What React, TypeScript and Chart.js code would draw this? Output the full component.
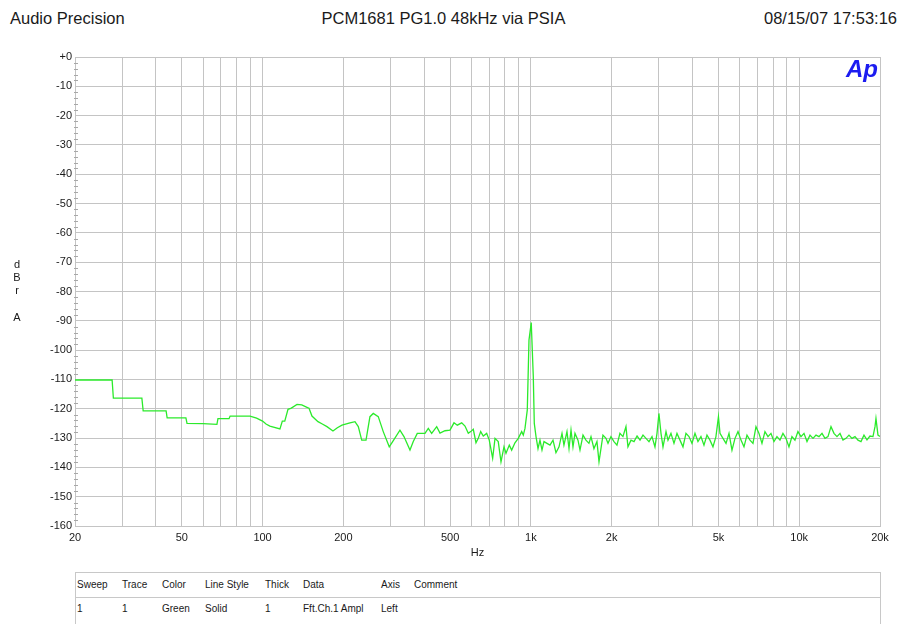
import React, { useEffect, useRef } from "react";
import { Chart, registerables } from "chart.js";

Chart.register(...registerables);

const FREQ_HZ = [
  20, 27.5, 27.8, 35.5, 35.9, 43.7, 44.1, 51.8, 52.3, 60, 67.6, 68.2, 75, 75.7, 89.8, 95, 100, 103, 106.5, 116.1,
  118.5, 121, 124.4, 128, 134.4, 140, 146.4, 149, 152.8, 160.9, 167, 173.8, 183, 190, 197.7, 211.7, 221, 227.4,
  234.2, 243, 251.3, 258.6, 269.9, 281.7, 296.6, 305.4, 325.1, 336.5, 354.3, 364.5, 377.2, 403, 414.6, 426.8,
  445.6, 458.4, 478.5, 499.5, 516.9, 531.7, 552.3, 568.1, 584.4, 596.6, 610, 624.3, 636.6, 650, 664.6, 684.2,
  699.6, 720.3, 735, 755.7, 773.7, 793.8, 807.7, 830.9, 847.9, 872.3, 897.4, 924.1, 936.9, 950.6, 969.6, 983.8,
  1003, 1020.8, 1029.6, 1045, 1063, 1081, 1100, 1119, 1148, 1178, 1209, 1240, 1273, 1306, 1328, 1363, 1387, 1411,
  1435, 1460, 1498, 1524, 1564, 1604, 1646, 1675, 1718, 1763, 1794, 1856, 1905, 1938, 1988, 2040, 2093, 2147,
  2203, 2261, 2300, 2361, 2423, 2487, 2551, 2617, 2685, 2755, 2827, 2900, 2951, 3000, 3054, 3107, 3188, 3243,
  3327, 3414, 3503, 3594, 3688, 3784, 3883, 3984, 4088, 4194, 4303, 4416, 4531, 4649, 4770, 4894, 5000, 5067,
  5199, 5335, 5474, 5616, 5763, 5913, 6067, 6225, 6387, 6554, 6725, 6900, 7080, 7264, 7453, 7648, 7847, 8051,
  8261, 8477, 8697, 8924, 9157, 9395, 9640, 9891, 10153, 10418, 10690, 10969, 11255, 11548, 11849, 12158, 12475,
  12800, 13134, 13476, 13827, 14188, 14558, 14937, 15326, 15726, 16136, 16556, 16988, 17431, 17885, 18351, 18829,
  19160, 19320, 19655, 20000,
];

const LEVEL_DBR = [
  -110.2, -110.2, -116.4, -116.4, -120.7, -120.7, -123.1, -123.1, -125.0, -125.1, -125.3, -123.4, -123.4, -122.5,
  -122.5, -123.2, -124.2, -125.2, -125.9, -126.9, -124.2, -124.2, -120.2, -119.8, -118.5, -118.7, -119.5, -119.8,
  -122.5, -124.4, -125.2, -126.1, -127.6, -126.5, -125.6, -124.8, -124.4, -126.1, -130.7, -130.7, -122.7, -121.6,
  -122.7, -127.8, -133.0, -131.2, -127.3, -129.5, -134.1, -131.2, -128.4, -128.4, -126.7, -128.4, -126.1, -128.3,
  -127.5, -127.3, -124.8, -125.6, -124.8, -125.9, -128.4, -127.8, -127.0, -131.6, -130.1, -127.8, -129.3, -128.4,
  -130.7, -136.9, -130.1, -131.2, -138.1, -133.0, -135.2, -132.4, -134.1, -131.6, -130.1, -127.8, -129.0, -126.7,
  -120.4, -96.6, -90.6, -109.0, -125.0, -129.5, -133.6, -130.7, -134.1, -131.2, -131.8, -132.4, -130.7, -135.0,
  -133.0, -128.4, -132.4, -127.8, -133.6, -127.3, -133.0, -128.4, -130.7, -134.1, -129.0, -130.7, -131.8, -129.5,
  -133.6, -131.2, -138.1, -129.0, -130.1, -131.8, -129.5, -131.2, -132.4, -128.4, -129.5, -126.1, -133.0, -130.7,
  -131.2, -129.3, -130.7, -129.0, -130.1, -131.2, -129.5, -133.0, -128.4, -121.6, -128.4, -133.0, -127.8, -130.7,
  -128.4, -131.8, -128.4, -130.7, -133.0, -128.4, -129.5, -131.8, -128.4, -131.2, -129.5, -132.4, -129.0, -130.7,
  -133.0, -129.5, -122.7, -128.4, -130.1, -131.8, -128.4, -134.1, -130.1, -127.8, -130.7, -133.0, -129.0, -130.7,
  -131.8, -126.1, -128.4, -131.8, -127.8, -129.5, -128.4, -131.2, -129.5, -130.7, -128.4, -130.1, -133.0, -129.5,
  -130.7, -127.8, -129.5, -128.4, -131.2, -129.0, -130.1, -129.0, -129.5, -128.4, -130.1, -129.5, -126.1, -128.4,
  -129.5, -128.4, -130.7, -130.1, -129.0, -130.1, -129.5, -130.7, -131.2, -129.0, -130.6, -129.3, -129.5, -126.1,
  -123.3, -129.0, -129.5,
];

const X_GRID_HZ = [
  20, 30, 40, 50, 60, 70, 80, 90, 100, 200, 300, 400, 500, 600, 700, 800, 900, 1000, 2000, 3000, 4000, 5000,
  6000, 7000, 8000, 9000, 10000, 20000,
];
const X_LABEL_HZ = [20, 50, 100, 200, 500, 1000, 2000, 5000, 10000, 20000];
const X_LABEL_TEXT = ["20", "50", "100", "200", "500", "1k", "2k", "5k", "10k", "20k"];
const Y_MIN = -160;
const Y_MAX = 0;
const Y_STEP = 10;
const Y_MINOR_STEP = 2;

const HEADER_LEFT = "Audio Precision";
const HEADER_TITLE = "PCM1681 PG1.0 48kHz via PSIA";
const HEADER_RIGHT = "08/15/07 17:53:16";
const TABLE_HEAD = ["Sweep", "Trace", "Color", "Line Style", "Thick", "Data", "Axis", "Comment"];
const TABLE_ROW = ["1", "1", "Green", "Solid", "1", "Fft.Ch.1 Ampl", "Left", ""];
const TABLE_COL_X = [77, 122, 162, 205, 265, 303, 381, 414];

const FONT = "'Liberation Sans', Arial, Helvetica, sans-serif";
const GRID = "#c4c4c4";
const TEXT = "#1a1a1a";

const minorTicks = {
  id: "minorTicks",
  afterDraw(chart: any) {
    const y = chart.scales.y;
    const left = chart.chartArea.left;
    const ctx = chart.ctx;
    ctx.save();
    ctx.strokeStyle = "#a8a8a8";
    ctx.lineWidth = 1;
    for (let v = Y_MIN; v <= Y_MAX; v += Y_MINOR_STEP) {
      if (v % Y_STEP === 0) continue;
      const py = Math.round(y.getPixelForValue(v)) + 0.5;
      ctx.beginPath();
      ctx.moveTo(left - 1, py);
      ctx.lineTo(left + 3, py);
      ctx.stroke();
    }
    ctx.restore();
  },
};

export default function App() {
  const ref = useRef<HTMLCanvasElement | null>(null);

  useEffect(() => {
    document.body.style.margin = "0";
    const canvas = ref.current;
    if (!canvas) return;
    const points = FREQ_HZ.map((f, i) => ({ x: f, y: LEVEL_DBR[i] }));
    const chart = new Chart(canvas, {
      type: "line",
      data: {
        datasets: [
          {
            data: points,
            borderColor: "#2bea2b",
            borderWidth: 1.3,
            pointRadius: 0,
            tension: 0,
            fill: false,
          },
        ],
      },
      options: {
        responsive: false,
        animation: false,
        layout: { padding: { left: 0, right: 21, top: 57, bottom: 0 } },
        plugins: { legend: { display: false }, tooltip: { enabled: false } },
        scales: {
          x: {
            type: "logarithmic",
            min: 20,
            max: 20000,
            afterBuildTicks: (s: any) => {
              s.ticks = X_GRID_HZ.map((v) => ({ value: v }));
            },
            afterFit: (s: any) => {
              s.height = 44;
            },
            ticks: {
              autoSkip: false,
              maxRotation: 0,
              minRotation: 0,
              padding: 5,
              color: TEXT,
              font: { family: FONT, size: 11 },
              callback: (v: any) => {
                const i = X_LABEL_HZ.indexOf(Number(v));
                return i >= 0 ? X_LABEL_TEXT[i] : "";
              },
            },
            grid: { color: GRID, drawTicks: false, lineWidth: 1 },
            border: { color: GRID },
            title: {
              display: true,
              text: "Hz",
              color: TEXT,
              font: { family: FONT, size: 11 },
              padding: { top: 0, bottom: 10 },
            },
          },
          y: {
            type: "linear",
            min: Y_MIN,
            max: Y_MAX,
            afterFit: (s: any) => {
              s.width = 75;
            },
            ticks: {
              stepSize: Y_STEP,
              padding: 3,
              color: TEXT,
              font: { family: FONT, size: 11 },
              callback: (v: any) => (Number(v) === 0 ? "+0" : String(v)),
            },
            grid: { color: GRID, drawTicks: false, lineWidth: 1 },
            border: { color: GRID },
          },
        },
      },
      plugins: [minorTicks],
    });
    return () => chart.destroy();
  }, []);

  const abs = (extra: React.CSSProperties): React.CSSProperties => ({
    position: "absolute",
    whiteSpace: "nowrap",
    fontFamily: FONT,
    color: TEXT,
    ...extra,
  });

  return (
    <div style={{ position: "relative", width: 901, height: 624, overflow: "hidden", background: "#fff" }}>
      <style>{"body{margin:0}"}</style>
      <div style={abs({ left: 10, top: 8, fontSize: 16.5, lineHeight: "20px" })}>{HEADER_LEFT}</div>
      <div style={abs({ left: 0, width: 887, top: 8, fontSize: 16.5, lineHeight: "20px", textAlign: "center" })}>
        {HEADER_TITLE}
      </div>
      <div style={abs({ right: 4, top: 8, fontSize: 16.5, lineHeight: "20px" })}>{HEADER_RIGHT}</div>
      <canvas ref={ref} width={901} height={570} style={{ position: "absolute", left: 0, top: 0, width: 901, height: 570 }} />
      <div
        style={abs({
          left: 846,
          top: 55,
          fontSize: 24,
          lineHeight: "28px",
          fontWeight: "bold",
          fontStyle: "italic",
          color: "#1c1cf0",
        })}
      >
        Ap
      </div>
      {["d", "B", "r", "", "A"].map((ch, i) => (
        <div key={i} style={abs({ left: 11, width: 12, textAlign: "center", top: 258 + i * 13.2, fontSize: 11, lineHeight: "13px" })}>
          {ch}
        </div>
      ))}
      <div
        style={{
          position: "absolute",
          left: 75,
          top: 572,
          width: 806,
          height: 70,
          boxSizing: "border-box",
          border: "1px solid #c8c8c8",
        }}
      />
      <div style={{ position: "absolute", left: 75, top: 597, width: 806, height: 1, background: "#c8c8c8" }} />
      {TABLE_HEAD.map((t, i) => (
        <div key={"h" + i} style={abs({ left: TABLE_COL_X[i], top: 578, fontSize: 10, lineHeight: "14px" })}>
          {t}
        </div>
      ))}
      {TABLE_ROW.map((t, i) => (
        <div key={"r" + i} style={abs({ left: TABLE_COL_X[i], top: 602, fontSize: 10, lineHeight: "14px" })}>
          {t}
        </div>
      ))}
    </div>
  );
}
